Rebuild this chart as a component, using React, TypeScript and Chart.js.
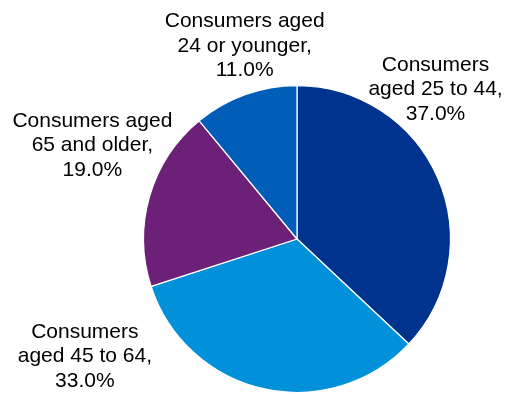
import React, { useEffect, useRef } from "react";
import { Chart, registerables } from "chart.js";

Chart.register(...registerables);

const categories = [
  "Consumers aged 25 to 44",
  "Consumers aged 45 to 64",
  "Consumers aged 65 and older",
  "Consumers aged 24 or younger",
];
const values = [37.0, 33.0, 19.0, 11.0];
const colors = ["#00338D", "#0091DA", "#6D2077", "#005EB8"];
const labelLines = [
  ["Consumers", "aged 25 to 44,"],
  ["Consumers", "aged 45 to 64,"],
  ["Consumers aged", "65 and older,"],
  ["Consumers aged", "24 or younger,"],
];
// label anchor offsets, in units of the pie radius, from the pie centre
const labelOffsets = [
  [0.903, -0.975],
  [-1.383, 0.766],
  [-1.334, -0.61],
  [-0.341, -1.26],
];

const labelPlugin = {
  id: "pieLabels",
  afterDatasetsDraw(chart: any) {
    const ctx = chart.ctx;
    const meta = chart.getDatasetMeta(0);
    ctx.save();
    ctx.font = "21px 'Liberation Sans', Arial, sans-serif";
    ctx.fillStyle = "#000000";
    ctx.textAlign = "center";
    ctx.textBaseline = "middle";
    meta.data.forEach((arc: any, i: number) => {
      const r = arc.outerRadius;
      const cx = arc.x + labelOffsets[i][0] * r;
      const cy = arc.y + labelOffsets[i][1] * r;
      const lines = [...labelLines[i], values[i].toFixed(1) + "%"];
      const lh = 24.5;
      lines.forEach((t, j) => {
        ctx.fillText(t, cx, cy + (j - 1) * lh);
      });
    });
    ctx.restore();
  },
};

export default function App() {
  const ref = useRef<HTMLCanvasElement>(null);
  useEffect(() => {
    document.body.style.margin = "0";
    const chart = new Chart(ref.current!, {
      type: "pie",
      data: {
        labels: categories,
        datasets: [
          {
            data: values,
            backgroundColor: colors,
            borderColor: "#ffffff",
            borderWidth: 1.2,
          },
        ],
      },
      options: {
        responsive: false,
        animation: false,
        layout: { padding: { top: 85, bottom: 1, left: 143, right: 54 } },
        plugins: {
          legend: { display: false },
          tooltip: { enabled: false },
        },
      },
      plugins: [labelPlugin],
    });
    return () => chart.destroy();
  }, []);
  return (
    <div style={{ width: 505, height: 394, background: "#fff" }}>
      <canvas ref={ref} width={505} height={394} />
    </div>
  );
}
